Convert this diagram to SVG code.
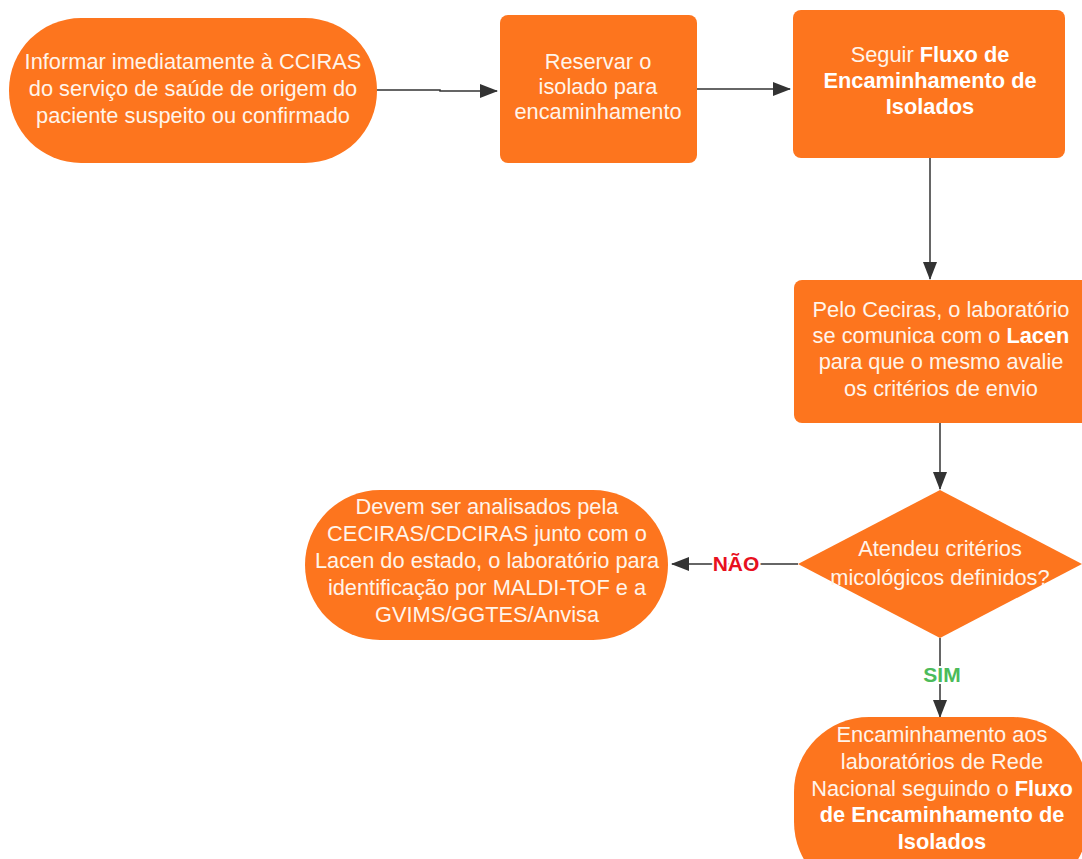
<svg xmlns="http://www.w3.org/2000/svg" width="1082" height="859" viewBox="0 0 1082 859">
<defs>
<style>
.n{fill:#FD751E;}
.t{font-family:"Liberation Sans",Arial,sans-serif;font-size:21.8px;fill:#FFF4EA;text-anchor:middle;}
.b{font-weight:bold;fill:#FFFFFF;}
.c{stroke:#333;stroke-width:1.5;fill:none;}
.lbl{font-family:"Liberation Sans",Arial,sans-serif;font-size:21px;font-weight:bold;text-anchor:middle;}
</style>
<marker id="ah" viewBox="0 0 18 14" refX="17" refY="7" markerWidth="18" markerHeight="14" markerUnits="userSpaceOnUse" orient="auto">
<path d="M0,0 L18,7 L0,14 z" fill="#333"/>
</marker>
</defs>
<rect width="1082" height="859" fill="#fff"/>
<g id="connectors">
<path class="c" d="M376,90 H440 V91 H497" marker-end="url(#ah)"/>
<path class="c" d="M697,89 H790" marker-end="url(#ah)"/>
<path class="c" d="M930,158 V279" marker-end="url(#ah)"/>
<path class="c" d="M940,423 V489" marker-end="url(#ah)"/>
<path class="c" d="M798,564 H672" marker-end="url(#ah)"/>
<path class="c" d="M940,638 V717" marker-end="url(#ah)"/>
<text class="lbl" x="736" y="571" fill="#E8101E" stroke="#fff" stroke-width="4" paint-order="stroke">NÃO</text>
<text class="lbl" x="942" y="682" fill="#4CBB5A" stroke="#fff" stroke-width="4" paint-order="stroke">SIM</text>
</g>
<g id="n1">
<rect class="n" x="9" y="18" width="368" height="145" rx="72"/>
<text class="t" x="193" y="69">Informar imediatamente à CCIRAS</text>
<text class="t" x="193" y="96">do serviço de saúde de origem do</text>
<text class="t" x="193" y="123">paciente suspeito ou confirmado</text>
</g>
<g id="n2">
<rect class="n" x="500" y="15" width="197" height="148" rx="8"/>
<text class="t" x="598" y="69">Reservar o</text>
<text class="t" x="598" y="94">isolado para</text>
<text class="t" x="598" y="119">encaminhamento</text>
</g>
<g id="n3">
<rect class="n" x="793" y="10" width="272" height="148" rx="8"/>
<text class="t" x="930" y="62">Seguir <tspan class="b">Fluxo de</tspan></text>
<text class="t b" x="930" y="88">Encaminhamento de</text>
<text class="t b" x="930" y="114">Isolados</text>
</g>
<g id="n4">
<rect class="n" x="794" y="280" width="300" height="143" rx="8"/>
<text class="t" x="941" y="317">Pelo Ceciras, o laboratório</text>
<text class="t" x="941" y="343">se comunica com o <tspan class="b">Lacen</tspan></text>
<text class="t" x="941" y="369">para que o mesmo avalie</text>
<text class="t" x="941" y="396">os critérios de envio</text>
</g>
<g id="n5">
<polygon class="n" points="940,490 1082,564 940,638 798,564"/>
<text class="t" x="940" y="556">Atendeu critérios</text>
<text class="t" x="940" y="585">micológicos definidos?</text>
</g>
<g id="n6">
<rect class="n" x="305" y="490" width="363" height="150" rx="75"/>
<text class="t" x="487" y="514">Devem ser analisados pela</text>
<text class="t" x="487" y="541">CECIRAS/CDCIRAS junto com o</text>
<text class="t" x="487" y="568">Lacen do estado, o laboratório para</text>
<text class="t" x="487" y="595">identificação por MALDI-TOF e a</text>
<text class="t" x="487" y="622">GVIMS/GGTES/Anvisa</text>
</g>
<g id="n7">
<rect class="n" x="794" y="717" width="294" height="180" rx="75"/>
<text class="t" x="942" y="742">Encaminhamento aos</text>
<text class="t" x="942" y="769">laboratórios de Rede</text>
<text class="t" x="942" y="796">Nacional seguindo o <tspan class="b">Fluxo</tspan></text>
<text class="t b" x="942" y="822">de Encaminhamento de</text>
<text class="t b" x="942" y="849">Isolados</text>
</g>
</svg>
